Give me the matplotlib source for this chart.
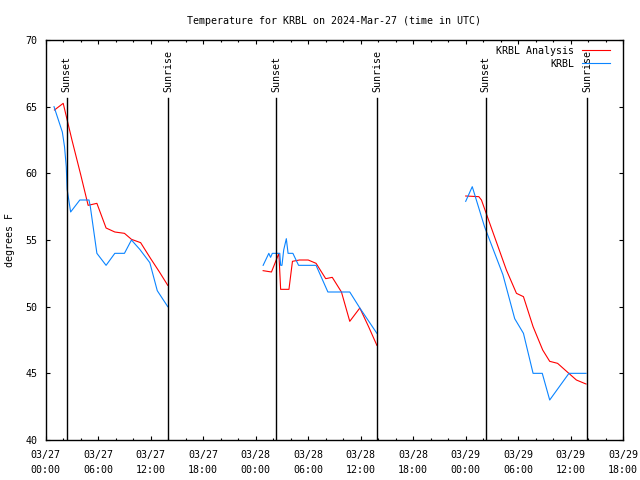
import datetime as dt
import matplotlib
matplotlib.use("Agg")
import matplotlib.pyplot as plt
import matplotlib.dates as mdates
from matplotlib.transforms import blended_transform_factory

# ---- data (hours after 2024-03-27 00:00 UTC, temperature in F) ----
analysis_h1 = [1.0, 2.0, 3.0, 4.0, 4.85, 5.85, 6.9, 7.9, 9.0, 9.8, 10.85, 12.0, 13.0, 13.95]
analysis_t1 = [64.75, 65.25, 62.5, 59.9, 57.6, 57.75, 55.9, 55.6, 55.5, 55.05, 54.8, 53.6, 52.6, 51.6]
analysis_h2 = [24.85, 25.8, 26.65, 26.85, 27.8, 28.2, 29.0, 30.0, 30.9, 32.0, 32.75, 33.8, 34.75, 35.9, 36.9, 37.85]
analysis_t2 = [52.7, 52.6, 54.0, 51.3, 51.3, 53.4, 53.5, 53.5, 53.25, 52.1, 52.2, 51.1, 48.9, 49.9, 48.5, 47.1]
analysis_h3 = [48.0, 49.5, 49.8, 51.1, 52.65, 53.8, 54.6, 55.7, 56.8, 57.6, 58.5, 59.7, 60.65, 61.75]
analysis_t3 = [58.3, 58.25, 58.0, 55.6, 52.75, 51.0, 50.75, 48.5, 46.75, 45.9, 45.75, 45.05, 44.5, 44.2]

obs_h1 = [0.95, 1.9, 2.15, 2.35, 2.45, 2.85, 3.9, 4.95, 5.1, 5.85, 6.9, 7.9, 9.0, 9.8, 10.75, 11.9, 12.75, 13.95]
obs_t1 = [65.0, 63.1, 62.0, 60.5, 58.8, 57.1, 58.0, 58.0, 57.5, 54.0, 53.1, 54.0, 54.0, 55.0, 54.3, 53.3, 51.2, 50.0]
obs_h2 = [24.85, 25.5, 25.7, 25.9, 26.75, 26.85, 27.0, 27.2, 27.5, 27.7, 28.25, 28.9, 30.9, 32.25, 34.75, 35.9, 37.85]
obs_t2 = [53.1, 54.0, 53.7, 54.0, 54.0, 53.1, 53.1, 54.25, 55.1, 54.0, 54.0, 53.1, 53.1, 51.1, 51.1, 49.9, 48.0]
obs_h3 = [48.0, 48.75, 50.15, 52.25, 53.6, 54.6, 55.7, 56.75, 57.6, 59.8, 61.75]
obs_t3 = [57.9, 59.0, 56.0, 52.4, 49.1, 48.0, 45.0, 45.0, 43.0, 45.0, 45.0]

sunset_h = [2.4, 26.35, 50.3]
sunrise_h = [14.0, 37.9, 61.85]

title = "Temperature for KRBL on 2024-Mar-27 (time in UTC)"
series_labels = ["KRBL Analysis", "KRBL"]
ylabel = "degrees F"

base = dt.datetime(2024, 3, 27, 0, 0)
def tt(hours):
    return [base + dt.timedelta(hours=h) for h in hours]

FONT = "DejaVu Sans Mono"
FS = 7.2
plt.rcParams["font.family"] = FONT
plt.rcParams["font.size"] = FS

fig = plt.figure(figsize=(6.4, 4.8), dpi=100)
ax = fig.add_axes([45.7 / 640, 40 / 480, (623.2 - 45.7) / 640, 400 / 480])

RED = "#ff0000"
BLUE = "#0a84ff"
lw = 0.8

la, = ax.plot(tt(analysis_h1), analysis_t1, color=RED, lw=lw)
ax.plot(tt(analysis_h2), analysis_t2, color=RED, lw=lw)
ax.plot(tt(analysis_h3), analysis_t3, color=RED, lw=lw)
lo, = ax.plot(tt(obs_h1), obs_t1, color=BLUE, lw=lw)
ax.plot(tt(obs_h2), obs_t2, color=BLUE, lw=lw)
ax.plot(tt(obs_h3), obs_t3, color=BLUE, lw=lw)

trans = blended_transform_factory(ax.transData, ax.transAxes)
for hs, lab in ((sunset_h, "Sunset"), (sunrise_h, "Sunrise")):
    for h, x in zip(hs, tt(hs)):
        ax.axvline(x, ymin=0, ymax=0.855, color="black", lw=1.0)
        ax.text(x, 0.87, lab, rotation=90, ha="center", va="bottom",
                transform=trans, fontsize=FS)

ax.set_xlim(base, base + dt.timedelta(hours=66))
ax.set_ylim(40, 70)
ax.set_yticks([40, 45, 50, 55, 60, 65, 70])

ax.xaxis.set_major_locator(mdates.HourLocator(byhour=[0, 6, 12, 18]))
ax.xaxis.set_minor_locator(mdates.HourLocator(byhour=range(0, 24, 2)))
ax.xaxis.set_major_formatter(mdates.DateFormatter("%m/%d\n%H:%M"))

ax.tick_params(axis="both", which="both", direction="in", top=True, right=True,
               width=0.8, labelsize=FS)
ax.tick_params(axis="x", which="major", length=3.2, pad=7)
ax.tick_params(axis="x", which="minor", length=1.7)
ax.tick_params(axis="y", which="major", length=3.2, pad=6)
for lab in ax.get_xticklabels():
    lab.set_linespacing(1.65)

for s in ax.spines.values():
    s.set_linewidth(1.0)
    s.set_color("black")

ax.set_title(title, fontsize=FS, pad=11.5)
ax.set_ylabel(ylabel, fontsize=FS)
ax.yaxis.set_label_coords(-0.053, 0.5)

leg = ax.legend([la, lo], series_labels, loc="upper right",
                bbox_to_anchor=(0.977, 0.985), frameon=False, markerfirst=False,
                handlelength=2.8, handletextpad=0.8, labelspacing=0.3,
                borderpad=0, borderaxespad=0, fontsize=FS)

fig.savefig("out.png", dpi=100)
